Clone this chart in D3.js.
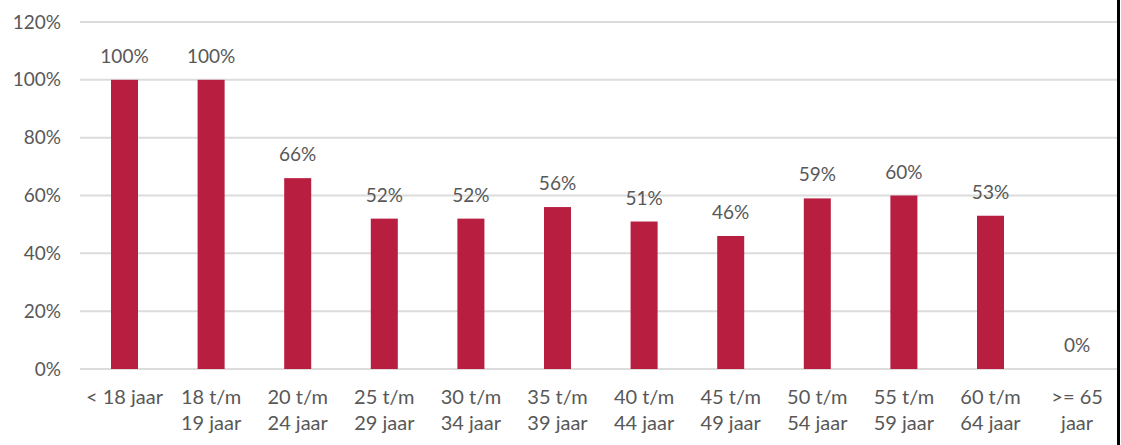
<!DOCTYPE html>
<html>
<head>
<meta charset="utf-8">
<script src="https://cdn.jsdelivr.net/npm/d3@7"></script>
<style>
  html, body { margin: 0; padding: 0; background: #fff; }
  svg { display: block; }
  text { font-family: Lato, "Open Sans", sans-serif; fill: #585858; }
</style>
</head>
<body>
<svg id="chart" width="1121" height="445"></svg>
<script>
// Age groups (each entry is the list of label lines)
const categories = [
  ["< 18 jaar"],
  ["18 t/m", "19 jaar"],
  ["20 t/m", "24 jaar"],
  ["25 t/m", "29 jaar"],
  ["30 t/m", "34 jaar"],
  ["35 t/m", "39 jaar"],
  ["40 t/m", "44 jaar"],
  ["45 t/m", "49 jaar"],
  ["50 t/m", "54 jaar"],
  ["55 t/m", "59 jaar"],
  ["60 t/m", "64 jaar"],
  [">= 65", "jaar"]
];
// Share per age group, in percent
const values = [100, 100, 66, 52, 52, 56, 51, 46, 59, 60, 53, 0];
// Y axis ticks, in percent
const yTicks = [0, 20, 40, 60, 80, 100, 120];

const W = 1121, H = 445;
const plot = { left: 80, right: 1117, top: 22, bottom: 369 };

const svg = d3.select("#chart");

const keys = categories.map((c, i) => i);
const x = d3.scaleBand()
  .domain(keys)
  .range([81.2, 1120.4])
  .paddingInner(0.688)
  .paddingOuter(0.344);

const y = d3.scaleLinear()
  .domain([0, 120])
  .range([plot.bottom, plot.top]);

// Horizontal gridlines
svg.append("g")
  .selectAll("line")
  .data(yTicks)
  .join("line")
  .attr("x1", plot.left)
  .attr("x2", plot.right)
  .attr("y1", d => y(d))
  .attr("y2", d => y(d))
  .attr("stroke", "#dcdcdc")
  .attr("stroke-width", 2);

// Y axis tick labels
const yAxis = d3.axisLeft(y)
  .tickValues(yTicks)
  .tickFormat(d => d + "%")
  .tickSize(0)
  .tickPadding(0);

const yg = svg.append("g")
  .attr("transform", `translate(61,0)`)
  .call(yAxis);
yg.select(".domain").remove();
yg.selectAll("text")
  .attr("font-family", "Lato, 'Open Sans', sans-serif")
  .attr("font-size", 19)
  .attr("fill", "#585858");

// Bars
svg.append("g")
  .selectAll("rect")
  .data(values)
  .join("rect")
  .attr("x", (d, i) => x(i))
  .attr("width", x.bandwidth())
  .attr("y", d => y(d))
  .attr("height", d => y(0) - y(d))
  .attr("fill", "#b81e40");

// Value labels above the bars
svg.append("g")
  .selectAll("text")
  .data(values)
  .join("text")
  .attr("x", (d, i) => x(i) + x.bandwidth() / 2)
  .attr("y", d => y(d) - 17)
  .attr("text-anchor", "middle")
  .attr("font-size", 19)
  .text(d => d + "%");

// Category labels below the axis
const xg = svg.append("g");
categories.forEach((lines, i) => {
  const cx = x(i) + x.bandwidth() / 2;
  const t = xg.append("text")
    .attr("x", cx)
    .attr("y", 404)
    .attr("text-anchor", "middle")
    .attr("font-size", 20);
  lines.forEach((ln, j) => {
    t.append("tspan")
      .attr("x", cx)
      .attr("dy", j === 0 ? 0 : 26)
      .text(ln);
  });
});

// Right frame edge
svg.append("rect")
  .attr("x", 1117)
  .attr("y", 0)
  .attr("width", 3)
  .attr("height", H)
  .attr("fill", "#000");
</script>
</body>
</html>
